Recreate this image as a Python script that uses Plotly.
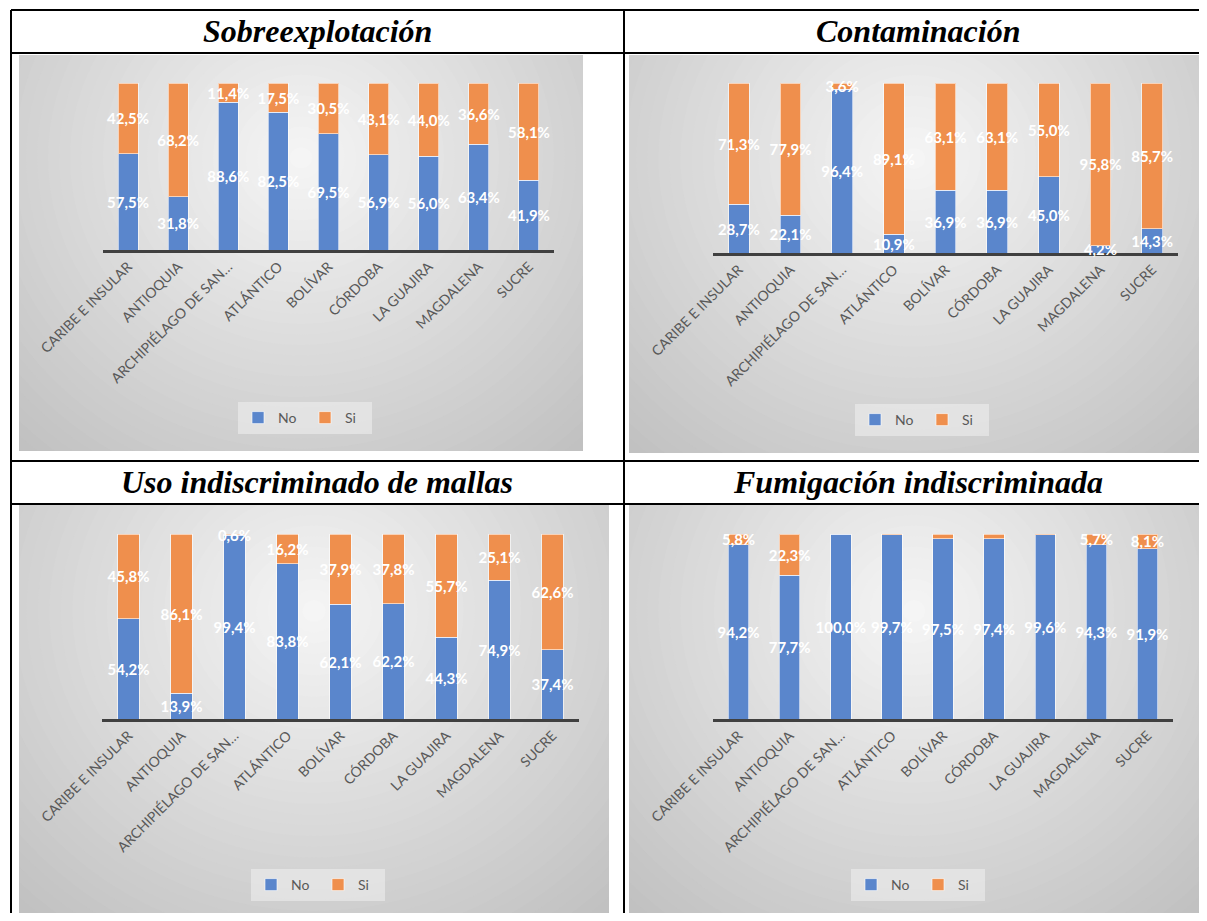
import plotly.graph_objects as go

# page body has an 8px margin: shift everything and shrink the figure so it fits
OFF = 8
W, H = 1207 - 2 * OFF, 921 - 2 * OFF

regions = ["CARIBE E INSULAR", "ANTIOQUIA", "ARCHIPIÉLAGO DE SAN…", "ATLÁNTICO",
           "BOLÍVAR", "CÓRDOBA", "LA GUAJIRA", "MAGDALENA", "SUCRE"]

titles = ["Sobreexplotación", "Contaminación",
          "Uso indiscriminado de mallas", "Fumigación indiscriminada"]

sobre_no = [57.5, 31.8, 88.6, 82.5, 69.5, 56.9, 56.0, 63.4, 41.9]
sobre_si = [42.5, 68.2, 11.4, 17.5, 30.5, 43.1, 44.0, 36.6, 58.1]

conta_no = [28.7, 22.1, 96.4, 10.9, 36.9, 36.9, 45.0, 4.2, 14.3]
conta_si = [71.3, 77.9, 3.6, 89.1, 63.1, 63.1, 55.0, 95.8, 85.7]

mallas_no = [54.2, 13.9, 99.4, 83.8, 62.1, 62.2, 44.3, 74.9, 37.4]
mallas_si = [45.8, 86.1, 0.6, 16.2, 37.9, 37.8, 55.7, 25.1, 62.6]

fumi_no = [94.2, 77.7, 100.0, 99.7, 97.5, 97.4, 99.6, 94.3, 91.9]
fumi_si = [5.8, 22.3, 0.0, 0.3, 2.5, 2.6, 0.4, 5.7, 8.1]

series = [(sobre_no, sobre_si), (conta_no, conta_si),
          (mallas_no, mallas_si), (fumi_no, fumi_si)]
hide_below = [None, None, None, 3]

BLUE = "#5A86CC"
ORANGE = "#EF8F4D"


def fx(x):
    return min(1, max(0, (x - OFF) / W))


def fy(y):
    return min(1, max(0, 1 - (y - OFF) / H))


def px_x(a, b):
    return [fx(a), fx(b)]


def px_y(top, bottom):
    return [fy(bottom), fy(top)]


def fmt(vals, limit):
    out = []
    for v in vals:
        if limit is not None and v < limit:
            out.append("")
        else:
            out.append(f"{v:.1f}".replace(".", ",") + "%")
    return out


# screen pixel boxes: chart image (background) and plot area (bars)
bg_boxes = [(19, 583, 55, 451), (629, 1207, 55, 453),
            (19, 609, 505, 921), (629, 1202, 505, 921)]
plot_boxes = [(103, 554, 83, 250), (713, 1178, 83, 253),
              (102, 579, 534, 719), (713, 1173, 534, 719)]
title_pos = [(317, 31), (918, 31), (317, 482), (918, 482)]
legend_pos = [(305, 418), (922, 420), (318, 885), (918, 885)]

fig = go.Figure()
layout = dict(
    width=W, height=H, margin=dict(l=0, r=0, t=0, b=0, autoexpand=False),
    paper_bgcolor="white", plot_bgcolor="rgba(0,0,0,0)",
    barmode="stack", showlegend=True,
)
shapes = []
annotations = []


def gray(d):
    d = min(max(d, 0), 1)
    v = int(round(246 - (246 - 190) * d))
    return f"rgb({v},{v},{v})"


# background axes 1-4 with radial-ish gradient drawn by concentric ellipses
for i, (x0, x1, y0, y1) in enumerate(bg_boxes):
    n = i + 1
    sfx = "" if n == 1 else str(n)
    layout["xaxis" + sfx] = dict(domain=px_x(x0, x1), range=[0, 1], visible=False,
                                 fixedrange=True, anchor="y" + sfx, automargin=False)
    layout["yaxis" + sfx] = dict(domain=px_y(y0, y1), range=[0, 1], visible=False,
                                 fixedrange=True, anchor="x" + sfx, automargin=False)
    xr, yr = "x" + sfx, "y" + sfx
    shapes.append(dict(type="rect", xref=xr, yref=yr, x0=0, x1=1, y0=0, y1=1,
                       fillcolor=gray(1), line=dict(width=0), layer="below"))
    N = 40
    cx, cy, rx, ry = 0.5, 0.74, 0.78, 1.05
    for k in range(N):
        d = 1 - k / N
        shapes.append(dict(type="circle", xref=xr, yref=yr,
                           x0=cx - rx * d, x1=cx + rx * d,
                           y0=cy - ry * d, y1=cy + ry * d,
                           fillcolor=gray(d), line=dict(width=0), layer="below"))
    # trace so the subplot exists
    fig.add_trace(go.Scatter(x=[0], y=[0], mode="markers", marker=dict(opacity=0),
                             xaxis=xr, yaxis=yr, showlegend=False, hoverinfo="skip"))

# bar axes 5-8
for i, (x0, x1, y0, y1) in enumerate(plot_boxes):
    n = i + 5
    xr, yr = "x" + str(n), "y" + str(n)
    layout["xaxis" + str(n)] = dict(
        domain=px_x(x0, x1), anchor=yr, type="category",
        showline=True, linecolor="#404040", linewidth=3, layer="below traces",
        showgrid=False, zeroline=False, ticks="", tickangle=-45,
        tickfont=dict(family="Lato", size=14, color="#595959"),
        fixedrange=True, automargin=False,
    )
    layout["yaxis" + str(n)] = dict(domain=px_y(y0, y1), anchor=xr, range=[0, 100],
                                    visible=False, fixedrange=True, automargin=False)
    leg = "legend" if i == 0 else "legend" + str(i + 1)
    no, si = series[i]
    for name, vals, color in (("No", no, BLUE), ("Si", si, ORANGE)):
        fig.add_trace(go.Bar(
            x=regions, y=vals, name=name, xaxis=xr, yaxis=yr, legend=leg,
            width=0.4, marker=dict(color=color, line=dict(color="rgba(255,255,255,0.6)", width=1)),
            text=fmt(vals, hide_below[i]), textposition="inside",
            insidetextanchor="middle", textangle=0, constraintext="none",
            cliponaxis=False,
            textfont=dict(family="Lato", size=15, color="white", weight="bold"),
        ))
    lx, ly = legend_pos[i]
    layout[leg] = dict(x=fx(lx), y=fy(ly), xanchor="center", yanchor="middle",
                       orientation="h", bgcolor="rgba(240,240,240,0.55)",
                       traceorder="normal", entrywidth=22,
                       font=dict(family="Lato", size=14, color="#595959"),
                       itemwidth=30, tracegroupgap=0)

# titles
for t, (tx, ty) in zip(titles, title_pos):
    annotations.append(dict(text=t, x=fx(tx), y=fy(ty), xref="paper", yref="paper",
                            showarrow=False, xanchor="center", yanchor="middle",
                            font=dict(family="Liberation Serif", size=32, color="black",
                                      weight="bold", style="italic")))

# table lines
for y in (10, 53, 461, 504):
    shapes.append(dict(type="line", xref="paper", yref="paper", x0=fx(11), x1=1,
                       y0=fy(y), y1=fy(y), line=dict(color="black", width=2), layer="above"))
for x in (11, 624):
    shapes.append(dict(type="line", xref="paper", yref="paper", x0=fx(x), x1=fx(x),
                       y0=0, y1=fy(10), line=dict(color="black", width=2), layer="above"))

layout["shapes"] = shapes
layout["annotations"] = annotations
fig.update_layout(**layout)

fig.write_html("out.html")
